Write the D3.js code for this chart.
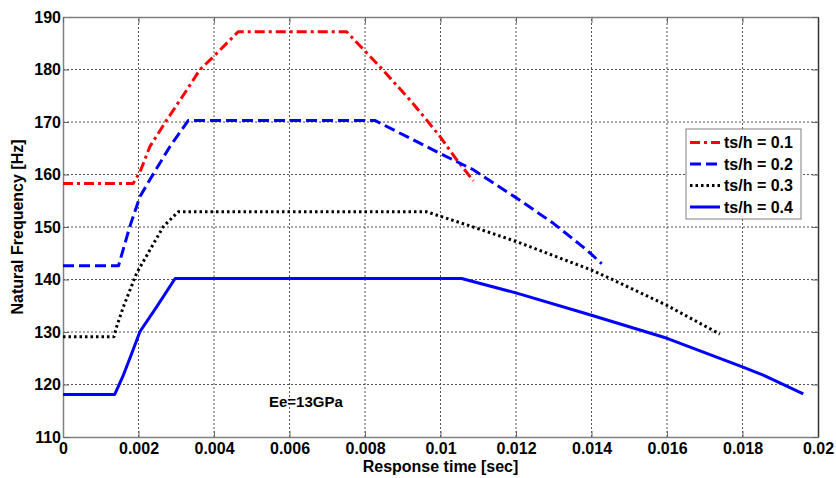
<!DOCTYPE html>
<html><head><meta charset="utf-8">
<script src="https://cdn.jsdelivr.net/npm/d3@7"></script>
<style>body{margin:0;background:#fff}svg{display:block;font-family:"Liberation Sans",Arial,sans-serif}</style>
</head><body><svg id="c" width="836" height="478"></svg>
<script>
const xTicks = [0,0.002,0.004,0.006,0.008,0.01,0.012,0.014,0.016,0.018,0.02];
const xTickLabels = ["0","0.002","0.004","0.006","0.008","0.01","0.012","0.014","0.016","0.018","0.02"];
const yTicks = [110,120,130,140,150,160,170,180,190];
const seriesNames = ["ts/h = 0.1","ts/h = 0.2","ts/h = 0.3","ts/h = 0.4"];
const x01 = [0,0.00186,0.00204,0.0023,0.00275,0.00328,0.00363,0.00398,0.00464,0.00751,0.0084,0.00919,0.00963,0.00999,0.01043,0.01087];
const y01 = [158.3,158.3,160.5,165.3,170.4,176.1,180,182.4,187.2,187.2,180.5,174.2,170.4,167.2,162.8,158.8];
const x02 = [0,0.00147,0.00177,0.00204,0.0023,0.00283,0.00332,0.00826,0.00999,0.01087,0.01202,0.01299,0.01388,0.01427];
const y02 = [142.6,142.6,150.1,155.8,159.0,165.3,170.3,170.3,164.0,160.9,155.5,150.7,145.6,143.0];
const x03 = [0,0.00135,0.00142,0.0016,0.00195,0.0023,0.00266,0.00305,0.00963,0.0107,0.01202,0.014,0.01458,0.01599,0.0174];
const y03 = [129.1,129.1,131.0,134.8,141.2,145.6,150.1,152.9,152.9,150.4,147.2,141.8,139.9,135.1,129.6];
const x04 = [0,0.00137,0.0016,0.00182,0.00204,0.00248,0.00297,0.01056,0.01202,0.014,0.016,0.01798,0.01855,0.01961];
const y04 = [118.1,118.1,121.8,125.9,130.1,134.8,140.2,140.2,137.4,133.2,128.8,123.4,121.8,118.2];
const annotation = "Ee=13GPa";

const W=836,H=478,m={l:63,t:17,r:18,b:41};
const svg=d3.select("#c");
const x=d3.scaleLinear().domain([0,0.02]).range([m.l,W-m.r]);
const y=d3.scaleLinear().domain([110,190]).range([H-m.b,m.t]);
const g=svg.append("g");
g.selectAll(".gx").data(xTicks.slice(1,-1)).enter().append("line")
 .attr("x1",d=>x(d)).attr("x2",d=>x(d)).attr("y1",y(110)).attr("y2",y(190))
 .attr("stroke","#555").attr("stroke-width",1).attr("stroke-dasharray","2,2");
g.selectAll(".gy").data(yTicks.slice(1,-1)).enter().append("line")
 .attr("y1",d=>y(d)).attr("y2",d=>y(d)).attr("x1",x(0)).attr("x2",x(0.02))
 .attr("stroke","#555").attr("stroke-width",1).attr("stroke-dasharray","2,2");
const ax=svg.append("g").attr("transform",`translate(0,${y(110)})`)
 .call(d3.axisBottom(x).tickValues(xTicks).tickFormat((d,i)=>xTickLabels[i]).tickSizeInner(-6).tickSizeOuter(0).tickPadding(6));
const ay=svg.append("g").attr("transform",`translate(${x(0)},0)`)
 .call(d3.axisLeft(y).tickValues(yTicks).tickSizeInner(-6).tickSizeOuter(0).tickPadding(2));
const at=svg.append("g").attr("transform",`translate(0,${y(190)})`)
 .call(d3.axisTop(x).tickValues(xTicks).tickFormat("").tickSizeInner(-6).tickSizeOuter(0));
const ar=svg.append("g").attr("transform",`translate(${x(0.02)},0)`)
 .call(d3.axisRight(y).tickValues(yTicks).tickFormat("").tickSizeInner(-6).tickSizeOuter(0));
[ax,ay,at,ar].forEach(a=>{a.select(".domain").attr("stroke","#808080").attr("stroke-width",1.5);
 a.selectAll(".tick line").attr("stroke","#666");
 a.selectAll("text").attr("font-size",16).attr("font-weight","bold").attr("fill","#000").attr("font-family","Liberation Sans, Arial, sans-serif");});
ar.select(".domain").attr("stroke","#333");
const styles=[
 {c:"#ff0000",d:"10,4,3,4",w:3},
 {c:"#0000ff",d:"11,5",w:3},
 {c:"#000000",d:"2.5,3",w:3},
 {c:"#0000ff",d:null,w:3}];
const data=[[x01,y01],[x02,y02],[x03,y03],[x04,y04]];
const line=d3.line().x(d=>x(d[0])).y(d=>y(d[1]));
data.forEach((s,i)=>{
 const pts=s[0].map((v,j)=>[v,s[1][j]]);
 svg.append("path").attr("d",line(pts)).attr("fill","none").attr("stroke",styles[i].c)
  .attr("stroke-width",styles[i].w).attr("stroke-dasharray",styles[i].d).attr("stroke-linejoin","round");
});
svg.append("text").attr("x",(x(0)+x(0.02))/2).attr("y",472).attr("text-anchor","middle")
 .attr("font-size",16).attr("font-weight","bold").text("Response time [sec]");
svg.append("text").attr("transform",`translate(23,${(y(110)+y(190))/2}) rotate(-90)`).attr("text-anchor","middle")
 .attr("font-size",16).attr("font-weight","bold").text("Natural Frequency [Hz]");
svg.append("text").attr("x",269).attr("y",407).attr("font-size",15).attr("font-weight","bold").text(annotation);
const lg=svg.append("g");
lg.append("rect").attr("x",686).attr("y",129).attr("width",115).attr("height",90).attr("fill","#fff").attr("stroke","#808080").attr("stroke-width",1);
const ly=[142.5,164,185.5,207];
seriesNames.forEach((n,i)=>{
 lg.append("line").attr("x1",690).attr("x2",720).attr("y1",ly[i]).attr("y2",ly[i])
  .attr("stroke",styles[i].c).attr("stroke-width",styles[i].w).attr("stroke-dasharray",styles[i].d);
 lg.append("text").attr("x",724).attr("y",ly[i]+5.5).attr("font-size",16).attr("font-weight","bold").text(n);
});
</script></body></html>
